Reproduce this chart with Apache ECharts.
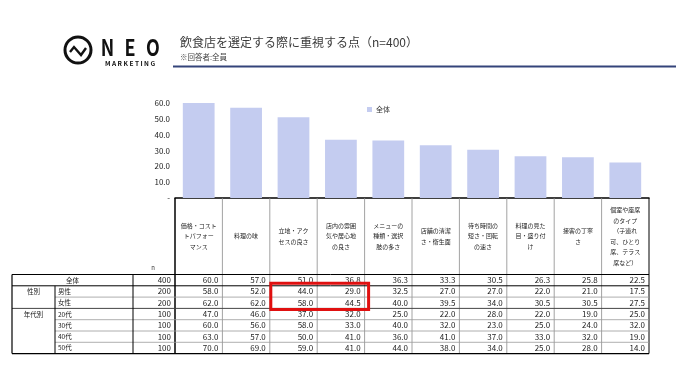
<!DOCTYPE html>
<html><head><meta charset="utf-8">
<script src="https://cdn.jsdelivr.net/npm/echarts@6/dist/echarts.min.js"></script>
<style>html,body{margin:0;padding:0;background:#fff}#c{width:676px;height:384px}</style>
</head><body><div id="c"></div>
<script>
const categories = [
  '価格・コスト\nトパフォー\nマンス',
  '料理の味',
  '立地・アク\nセスの良さ',
  '店内の雰囲\n気や居心地\nの良さ',
  'メニューの\n種類・選択\n肢の多さ',
  '店舗の清潔\nさ・衛生面',
  '待ち時間の\n短さ・回転\nの速さ',
  '料理の見た\n目・盛り付\nけ',
  '接客の丁寧\nさ',
  '個室や座席\nのタイプ\n（子連れ\n可、ひとり\n席、テラス\n席など）'
];
const overall = [60.0, 57.0, 51.0, 36.8, 36.3, 33.3, 30.5, 26.3, 25.8, 22.5];
const male    = [58.0, 52.0, 44.0, 29.0, 32.5, 27.0, 27.0, 22.0, 21.0, 17.5];
const female  = [62.0, 62.0, 58.0, 44.5, 40.0, 39.5, 34.0, 30.5, 30.5, 27.5];
const age20   = [47.0, 46.0, 37.0, 32.0, 25.0, 22.0, 28.0, 22.0, 19.0, 25.0];
const age30   = [60.0, 56.0, 58.0, 33.0, 40.0, 32.0, 23.0, 25.0, 24.0, 32.0];
const age40   = [63.0, 57.0, 50.0, 41.0, 36.0, 41.0, 37.0, 33.0, 32.0, 19.0];
const age50   = [70.0, 69.0, 59.0, 41.0, 44.0, 38.0, 34.0, 25.0, 28.0, 14.0];
const rowLabels = ['全体', '男性', '女性', '20代', '30代', '40代', '50代'];
const groupLabels = ['性別', '年代別'];
const rowN = [400, 200, 200, 100, 100, 100, 100];
const tableRows = [overall, male, female, age20, age30, age40, age50];
const seriesName = '全体';
const titleText = '飲食店を選定する際に重視する点（n=400）';
const subtitleText = '※回答者:全員';

const FONT = '"Noto Sans CJK JP", "Noto Sans", sans-serif';
const chart = echarts.init(document.getElementById('c'));

const base = {
  animation: false,
  grid: { left: 175, right: 27, top: 103, bottom: 186 },
  legend: {
    data: [seriesName], left: 362, top: 101, icon: 'rect',
    itemWidth: 5, itemHeight: 5, itemGap: 4,
    textStyle: { fontSize: 7, color: '#333', fontFamily: FONT, padding: [0,0,0,-1] }
  },
  xAxis: {
    type: 'category', data: categories,
    axisLine: { lineStyle: { color: '#000', width: 1.5 } },
    axisTick: { show: false },
    axisLabel: { interval: 0, margin: 38, verticalAlign: 'middle', align: 'center',
      fontSize: 6, lineHeight: 10.5, color: '#222', fontFamily: FONT }
  },
  yAxis: {
    type: 'value', min: 0, max: 60, interval: 10,
    splitLine: { show: false }, axisLine: { show: false }, axisTick: { show: false },
    axisLabel: { margin: 5, fontSize: 8, color: '#222', fontFamily: FONT,
      formatter: v => v === 0 ? '-' : v.toFixed(1) }
  },
  series: [{ name: seriesName, type: 'bar', data: overall, barWidth: '67%',
    itemStyle: { color: '#c4ccf0' } }]
};
chart.setOption(base);

const c0 = chart.convertToPixel({ xAxisIndex: 0 }, 0);
const c1 = chart.convertToPixel({ xAxisIndex: 0 }, 1);
const colW = c1 - c0;
const x0 = c0 - colW / 2;
const xEnd = x0 + colW * categories.length;
const yBase = chart.convertToPixel({ yAxisIndex: 0 }, 0);

const tableLeft = 12, groupRight = 55, labelRight = 133;
const headerBottom = yBase + 76.5;
const rowH = 11.3;
const tableBottom = headerBottom + rowH * tableRows.length;

const els = [];
function line(x1, y1, x2, y2, stroke, w) {
  els.push({ type: 'line', shape: { x1, y1, x2, y2 }, style: { stroke, lineWidth: w }, z: 10 });
}
function text(t, x, y, align, size, color, weight, extra) {
  els.push(Object.assign({ type: 'text', x, y, z: 11, style: {
    text: t, font: (weight || 'normal') + ' ' + size + 'px ' + FONT, fill: color || '#222',
    align: align, verticalAlign: 'middle', textAlign: align, textVerticalAlign: 'middle' } }, extra || {}));
}

// column dividers
for (let k = 1; k < categories.length; k++) line(x0 + k * colW, yBase, x0 + k * colW, tableBottom, '#8a8a8a', 0.8);
line(x0, yBase, x0, tableBottom, '#000', 1.5);
line(xEnd, yBase, xEnd, tableBottom, '#000', 1);
line(tableLeft, headerBottom, xEnd, headerBottom, '#000', 1);
for (let r = 1; r < tableRows.length; r++) {
  const y = headerBottom + r * rowH;
  if (r === 1) line(tableLeft, y, xEnd, y, '#000', 1);
  else if (r === 3) line(tableLeft, y, xEnd, y, '#444', 1);
  else line(groupRight, y, xEnd, y, '#9a9a9a', 0.8);
}
line(tableLeft, tableBottom, xEnd, tableBottom, '#000', 1.2);
line(tableLeft, headerBottom, tableLeft, tableBottom, '#000', 1.2);
line(groupRight, headerBottom + rowH, groupRight, tableBottom, '#000', 1);
line(labelRight, headerBottom, labelRight, tableBottom, '#000', 1);

text('n', x0 - 22, headerBottom - 7, 'center', 6, '#333');
for (let r = 0; r < tableRows.length; r++) {
  const yc = headerBottom + (r + 0.5) * rowH;
  if (r === 0) text(rowLabels[r], (tableLeft + labelRight) / 2, yc, 'center', 6.5, '#222');
  else text(rowLabels[r], groupRight + 3, yc, 'left', 6.5, '#222');
  text(String(rowN[r]), x0 - 4, yc, 'right', 8, '#222');
  tableRows[r].forEach((v, i) => text(v.toFixed(1), x0 + (i + 1) * colW - 4, yc, 'right', 8, '#222'));
}
text(groupLabels[0], (tableLeft + groupRight) / 2, headerBottom + 1.5 * rowH, 'center', 6.5, '#222');
text(groupLabels[1], (tableLeft + groupRight) / 2, headerBottom + 3.5 * rowH, 'center', 6.5, '#222');

// highlight box
els.push({ type: 'rect', z: 12, shape: { x: x0 + 2 * colW + 1, y: headerBottom + rowH - 2.5, width: 2 * colW + 3, height: 2 * rowH + 3.5 },
  style: { fill: 'none', stroke: '#e01010', lineWidth: 3 } });

// header: title, subtitle, rule
text(titleText, 180, 42, 'left', 12, '#3a3a3a');
text(subtitleText, 180, 57, 'left', 7.5, '#444');
line(173, 66.5, 676, 66.5, '#34447a', 1.8);

// logo
els.push({ type: 'circle', shape: { cx: 78, cy: 50, r: 13 }, style: { fill: 'none', stroke: '#111', lineWidth: 3 } });
els.push({ type: 'polyline', shape: { points: [[70, 52], [74, 47], [81, 55], [86, 48]] }, style: { fill: 'none', stroke: '#111', lineWidth: 2.4 } });
text('N', 107.5, 47, 'center', 23, '#111', 'bold', { scaleX: 0.78 });
text('E', 130, 47, 'center', 23, '#111', 'bold', { scaleX: 0.78 });
text('O', 153, 47, 'center', 23, '#111', 'bold', { scaleX: 0.78 });
text('M A R K E T I N G', 130, 64, 'center', 6.5, '#111', 'bold');

chart.setOption({ graphic: { elements: els } });
</script></body></html>
